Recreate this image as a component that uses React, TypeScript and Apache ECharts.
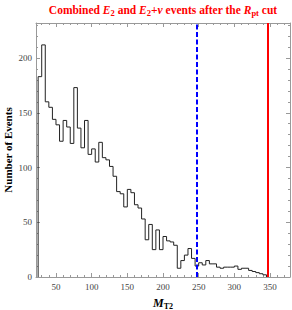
import React, { useEffect, useRef } from "react";
import * as echarts from "echarts";

// ---- data ----
const binStart = 25;
const binWidth = 5;
const counts = [
  183, 212, 160, 155, 144, 139, 124, 143, 137, 122, 173, 136, 118, 143, 112, 117,
  105, 123, 109, 107, 101, 92, 78, 76, 64, 80, 77, 66, 63, 53, 34, 48,
  25, 43, 25, 37, 33, 32, 29, 8, 15, 20, 26, 17, 10, 13, 11, 15,
  12, 12, 9, 8, 9, 9, 9, 10, 7, 8, 8, 6, 5, 4, 3, 2,
];
const blueCut = 248;
const redCut = 347;
const xRange = [22, 378];
const yRange = [0, 232];
const xMajorTicks = [50, 100, 150, 200, 250, 300, 350];
const xMinorTicks = [30, 40, 60, 70, 80, 90, 110, 120, 130, 140, 160, 170, 180, 190, 210, 220, 230, 240, 260, 270, 280, 290, 310, 320, 330, 340, 360, 370];
const yMajorTicks = [0, 50, 100, 150, 200];
const yMinorTicks = [10, 20, 30, 40, 60, 70, 80, 90, 110, 120, 130, 140, 160, 170, 180, 190, 210, 220, 230];

const SERIF = "'Liberation Serif', 'DejaVu Serif', serif";
const FRAME = "#999";
const LABEL = "#444";

function buildPoints(): number[][] {
  const pts: number[][] = [[binStart, 0]];
  counts.forEach((c, i) => {
    const x0 = binStart + i * binWidth;
    pts.push([x0, c]);
    pts.push([x0 + binWidth, c]);
  });
  pts.push([binStart + counts.length * binWidth, 0]);
  return pts;
}

function xAxisDef(position: "top" | "bottom", ticks: number[], len: number, labels: boolean, line: boolean) {
  return {
    type: "value",
    position,
    min: xRange[0],
    max: xRange[1],
    axisLine: { show: line, onZero: false, lineStyle: { color: FRAME, width: 1 } },
    axisTick: { show: true, inside: true, length: len, customValues: ticks, lineStyle: { color: FRAME, width: 1 } },
    axisLabel: labels
      ? { show: true, customValues: ticks, fontFamily: SERIF, fontSize: 9, color: LABEL, margin: 5 }
      : { show: false },
    splitLine: { show: false },
  };
}

function yAxisDef(position: "left" | "right", ticks: number[], len: number, labels: boolean, line: boolean) {
  return {
    type: "value",
    position,
    min: yRange[0],
    max: yRange[1],
    axisLine: { show: line, onZero: false, lineStyle: { color: FRAME, width: 1 } },
    axisTick: { show: true, inside: true, length: len, customValues: ticks, lineStyle: { color: FRAME, width: 1 } },
    axisLabel: labels
      ? { show: true, customValues: ticks, fontFamily: SERIF, fontSize: 9, color: LABEL, margin: 4 }
      : { show: false },
    splitLine: { show: false },
  };
}

export default function App() {
  const ref = useRef<HTMLDivElement>(null);
  useEffect(() => {
    if (!ref.current) return;
    const chart = echarts.init(ref.current, null, { renderer: "svg" });
    const titleBase = { fontFamily: SERIF, fontWeight: "bold", fontSize: 11.5, fill: "#ff0000" };
    const titleIt = { ...titleBase, fontStyle: "italic" };
    const titleSub = { ...titleBase, fontSize: 8.5, padding: [6, 0, 0, 0] };
    chart.setOption({
      animation: false,
      backgroundColor: "#fff",
      grid: { left: 36, right: 2, top: 23, bottom: 33, containLabel: false },
      xAxis: [
        xAxisDef("bottom", xMajorTicks, 4, true, true),
        xAxisDef("bottom", xMinorTicks, 2, false, false),
        xAxisDef("top", xMajorTicks, 4, false, true),
        xAxisDef("top", xMinorTicks, 2, false, false),
      ],
      yAxis: [
        yAxisDef("left", yMajorTicks, 4, true, true),
        yAxisDef("left", yMinorTicks, 2, false, false),
        yAxisDef("right", yMajorTicks, 4, false, true),
        yAxisDef("right", yMinorTicks, 2, false, false),
      ],
      series: [
        {
          type: "line",
          xAxisIndex: 0,
          yAxisIndex: 0,
          data: buildPoints(),
          symbol: "none",
          lineStyle: { color: "#222", width: 1 },
          markLine: {
            silent: true,
            symbol: ["none", "none"],
            label: { show: false },
            data: [
              { xAxis: blueCut, lineStyle: { color: "#0000ff", width: 2, type: [5, 2.5] } },
              { xAxis: redCut, lineStyle: { color: "#ff0000", width: 2, type: "solid" } },
            ],
          },
        },
      ],
      graphic: [
        {
          type: "text",
          x: 163,
          y: 2,
          style: {
            text: "{a|Combined }{i|E}{s|2}{a| and }{i|E}{s|2}{a|+}{i|ν}{a| events after the }{i|R}{s|pt}{a| cut}",
            textAlign: "center",
            rich: { a: titleBase, i: titleIt, s: titleSub },
          },
        },
        {
          type: "text",
          x: 8,
          y: 150,
          rotation: Math.PI / 2,
          style: {
            text: "Number of Events",
            fontFamily: SERIF,
            fontWeight: "bold",
            fontSize: 11,
            fill: "#000",
            textAlign: "center",
            textVerticalAlign: "middle",
          },
        },
        {
          type: "text",
          x: 163,
          y: 296,
          style: {
            text: "{m|M}{s|T2}",
            textAlign: "center",
            rich: {
              m: { fontFamily: SERIF, fontWeight: "bold", fontStyle: "italic", fontSize: 12, fill: "#000" },
              s: { fontFamily: SERIF, fontWeight: "bold", fontSize: 8, fill: "#000", padding: [6, 0, 0, 0] },
            },
          },
        },
      ],
    });
    return () => chart.dispose();
  }, []);
  return (
    <div
      ref={ref}
      style={{ position: "absolute", left: 0, top: 0, width: 292, height: 310 }}
    />
  );
}
